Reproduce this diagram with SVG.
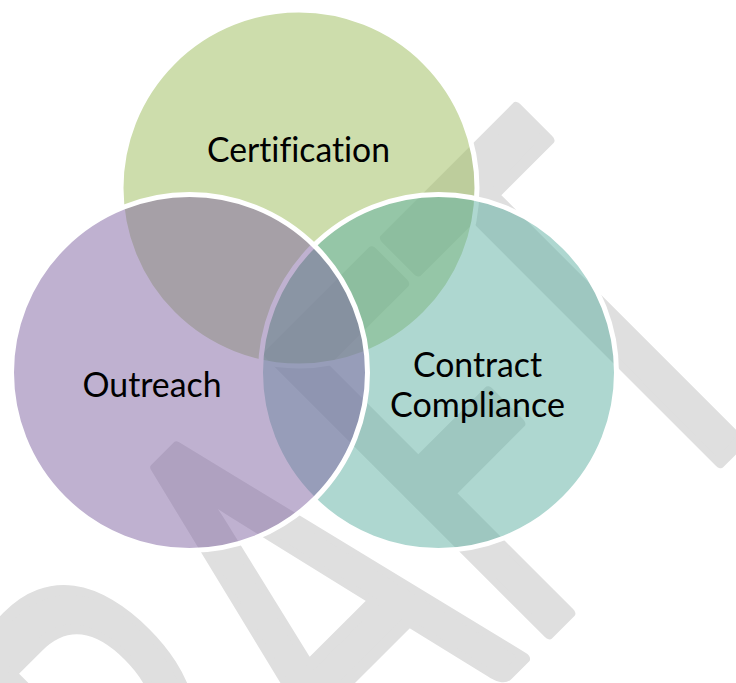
<svg xmlns="http://www.w3.org/2000/svg" width="736" height="683" viewBox="0 0 736 683">
  <style>
    .wm { font-family: Lato, "Open Sans", sans-serif; font-size: 550px; fill: #dfdfdf; stroke: #dfdfdf; stroke-width: 12; stroke-linejoin: round; font-variant-ligatures: none; }
    .circle { stroke: #ffffff; stroke-width: 5; fill-opacity: 0.5; }
    .label { font-family: Lato, "Open Sans", sans-serif; font-size: 34px; fill: #000000; text-anchor: middle; font-variant-ligatures: none; }
  </style>
  <rect width="736" height="683" fill="#ffffff"/>
  <g id="watermark">
    <text class="wm" text-anchor="end" transform="translate(800,382) rotate(-45) scale(0.61,1)">DRAFT</text>
  </g>
  <g id="connectors"></g>
  <g id="certification">
    <circle class="circle" cx="299" cy="188" r="178" fill="#9BBB59"/>
    <text class="label" x="298.5" y="162" textLength="183" lengthAdjust="spacingAndGlyphs">Certification</text>
  </g>
  <g id="contract-compliance">
    <circle class="circle" cx="438.5" cy="372.5" r="178" fill="#5DAFA1"/>
    <text class="label" x="477.5" y="377" textLength="129" lengthAdjust="spacingAndGlyphs">Contract</text>
    <text class="label" x="477.5" y="417" textLength="175" lengthAdjust="spacingAndGlyphs">Compliance</text>
  </g>
  <g id="outreach">
    <circle class="circle" cx="189.5" cy="372.5" r="178" fill="#8064A2"/>
    <text class="label" x="152" y="397" textLength="139" lengthAdjust="spacingAndGlyphs">Outreach</text>
  </g>
</svg>
